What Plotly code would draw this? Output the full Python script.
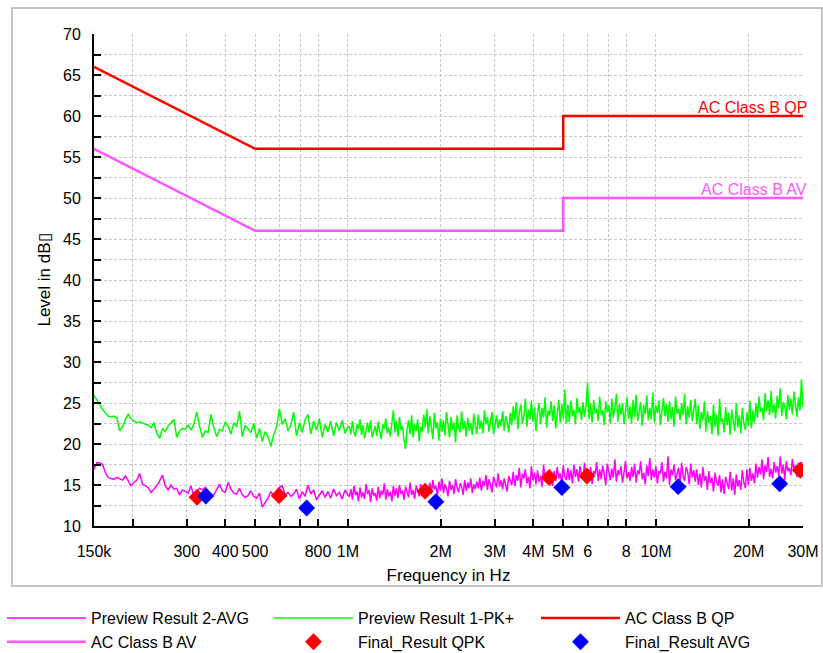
import math
import numpy as np
import plotly.graph_objects as go

# ---------------- data ----------------
# Preview sweep, 150 kHz .. 1 MHz (level in dBuV)
PK_LOW = [25.9, 25.4, 24.8, 24.2, 23.8, 23.4, 23.3, 23.4, 23.2, 21.6,
          22.1, 23.0, 23.6, 23.1, 22.8, 22.6, 22.7, 22.5, 22.4, 22.3,
          22.0, 22.6, 21.3, 20.7, 21.9, 21.5, 22.2, 22.6, 23.0, 20.8,
          21.6, 21.9, 21.8, 22.3, 21.7, 22.4, 23.9, 22.2, 20.8, 21.6,
          21.4, 23.6, 22.0, 20.9, 21.8, 21.6, 22.7, 22.2, 21.2, 22.6,
          22.1, 24.0, 20.9, 22.3, 21.8, 21.4, 22.5, 20.7, 21.9, 20.3,
          21.5, 20.9, 19.7, 21.2, 22.0, 24.3, 22.4, 23.1, 21.6, 22.3,
          23.9, 21.0, 22.6, 21.4, 23.0, 23.6, 21.2, 22.8, 21.7, 23.1,
          20.8, 22.4, 21.5, 22.8, 21.0, 22.6, 21.6, 22.9, 21.3, 22.1]
AVG_LOW = [16.9, 17.7, 17.7, 17.5, 16.5, 15.9, 15.8, 15.7, 15.9, 15.7,
           15.6, 16.1, 15.5, 14.9, 15.3, 15.6, 16.4, 15.1, 14.9, 14.7,
           14.1, 14.5, 14.9, 15.5, 16.2, 14.9, 14.4, 15.0, 14.5, 14.6,
           13.8, 14.4, 14.2, 14.0, 14.9, 13.6, 14.2, 14.6, 14.4, 14.7,
           14.2, 13.5, 13.8, 14.5, 15.1, 14.3, 14.1, 15.3, 14.5, 14.0,
           13.9, 14.6, 13.8, 13.5, 13.7, 14.3, 13.6, 13.4, 14.0, 12.3,
           12.9, 13.4, 14.2, 13.7, 14.3, 14.7, 14.9, 13.8, 14.1, 13.6,
           13.9, 14.5, 13.3, 14.2, 13.6, 15.0, 13.9, 14.4, 13.2, 13.8,
           14.3, 13.5, 14.2, 13.4, 14.5, 13.7, 14.1, 13.3, 14.4, 13.8]

# Preview sweep, 1 MHz .. 30 MHz
PK_HIGH = [22.1, 21.2, 22.8, 21.5, 20.9, 22.4, 21.8, 23.0, 21.1, 22.3,
           20.7, 21.9, 22.6, 21.4, 22.9, 20.8, 21.7, 22.2, 21.0, 22.7,
           21.6, 20.6, 22.4, 21.9, 23.1, 21.3, 22.0, 20.9, 22.5, 24.1,
           21.4, 22.8, 20.9, 23.3, 21.7, 22.2, 20.5, 19.4, 21.8, 22.9,
           21.2, 23.5, 20.8, 22.4, 21.6, 23.0, 20.3, 22.1, 21.5, 23.6,
           22.0, 24.2,
           21.3, 23.4, 22.1, 20.6, 23.8, 21.9, 22.7, 20.4, 23.1, 21.5,
           22.9, 21.0, 23.9, 22.2, 20.8, 23.3, 21.7, 22.6, 20.2, 23.5,
           22.0, 21.4, 24.0, 21.8, 22.8, 20.9, 23.2, 21.6, 22.5, 21.1,
           23.7, 22.3, 21.2,
           23.6, 21.8, 22.9, 21.3, 24.1, 22.4, 23.3, 21.5, 22.8, 23.9,
           21.2, 22.6, 23.5, 21.9, 23.0, 22.2, 24.0, 21.6, 23.4, 22.7,
           21.4, 23.8,
           22.3, 24.6, 22.9, 25.1, 21.8, 23.9, 24.8, 22.5, 23.4, 25.5,
           22.1, 24.2, 23.0, 25.3, 22.7, 24.5, 21.6, 23.8, 25.0, 22.4,
           24.4, 23.2, 25.7, 22.0, 24.1, 23.5, 25.2, 22.8, 24.7, 21.9,
           23.6, 25.4, 22.6, 24.9, 23.1, 26.6, 22.5,
           24.8, 22.7, 25.3, 23.4, 24.2, 22.4, 25.6, 23.8, 24.5, 22.9,
           25.1, 23.3, 24.6, 27.5, 23.0, 24.9, 22.6, 25.4, 23.7, 24.3,
           22.8, 25.8, 23.5, 24.1, 22.3, 25.2, 23.9, 24.7, 22.5, 25.5,
           23.2, 24.4, 26.1, 22.7, 24.9, 23.6, 25.0, 22.4, 24.3, 25.7,
           23.1,
           24.6, 22.5, 25.4, 23.3, 26.0, 22.8, 24.2, 25.1, 22.2, 24.8,
           23.6, 25.9, 22.9, 24.4, 23.0, 26.3, 22.6, 24.7, 23.8, 25.3,
           22.3, 24.1, 25.6, 23.4, 24.9, 22.7, 25.2, 23.1, 24.5, 22.1,
           25.8, 23.7, 24.3, 22.9, 25.0, 23.5, 26.1, 22.4, 24.6, 23.2,
           25.4, 22.8, 24.0, 25.5,
           22.4, 24.7, 21.8, 23.9, 22.9, 25.2, 21.5, 24.0, 22.6, 23.4,
           21.2, 24.8, 22.1, 23.6, 21.0, 25.5, 22.7, 23.1, 21.4, 24.5,
           22.3, 23.8, 21.1, 24.2, 22.8, 21.6, 25.0, 22.0, 23.5, 21.3,
           24.4, 22.5, 21.7, 23.9, 22.2, 25.3, 21.9, 24.1, 22.6,
           24.9, 23.2, 25.8, 23.9, 24.4, 22.9, 26.2, 24.0, 25.3, 23.5,
           26.5, 23.8, 24.8, 23.1, 25.9, 24.3, 26.8, 23.4, 25.1, 24.6,
           23.0, 26.0, 24.2, 25.5, 23.6, 26.4, 24.7, 23.3, 25.7, 24.1,
           27.9, 24.5]
AVG_HIGH = [13.6, 14.5, 13.2, 14.9, 13.8, 14.2, 13.0, 14.7, 13.5, 14.1,
            13.3, 15.1, 13.9, 14.4, 12.9, 14.6, 13.7, 14.0, 13.1, 14.8,
            13.4, 14.3, 13.8, 15.2, 13.2, 14.5, 13.6, 14.2, 13.0, 14.9,
            13.7, 14.6, 13.4, 15.0, 13.9, 14.3, 13.2, 14.8, 14.0, 13.5,
            15.3, 13.8, 14.4, 13.3, 14.9, 14.1, 13.6, 15.1, 13.9, 14.5,
            13.4, 14.7,
            14.2, 15.3, 13.9, 15.6, 14.5, 14.9, 13.7, 15.4, 14.3, 15.8,
            14.0, 15.1, 14.6, 13.6, 15.5, 14.4, 15.0, 13.9, 15.7, 14.7,
            14.1, 15.2, 14.8, 13.8, 15.6, 14.3, 15.3, 14.6, 15.8, 14.0,
            15.1, 14.5, 15.4,
            14.6, 15.9, 14.3, 15.5, 14.9, 16.2, 14.4, 15.7, 15.0, 14.1,
            16.0, 15.3, 14.7, 16.4, 14.8, 15.6, 14.5, 15.8, 15.1, 14.2,
            16.1, 15.4,
            15.0, 16.6, 14.9, 16.2, 15.5, 17.1, 14.7, 16.4, 15.8, 16.9,
            15.2, 16.0, 14.6, 17.3, 15.6, 16.5, 15.1, 16.8, 15.4, 16.1,
            14.8, 17.5, 15.7, 16.3, 15.3, 16.9, 15.9, 14.9, 16.7, 15.5,
            17.2, 15.8, 16.4, 15.2, 17.4, 16.0, 15.6,
            17.1, 15.6, 16.8, 15.2, 17.5, 16.0, 16.9, 15.4, 17.3, 16.2,
            15.8, 17.7, 15.3, 16.6, 15.9, 17.2, 15.1, 16.7, 16.3, 17.8,
            15.5, 16.9, 15.7, 17.4, 16.1, 15.0, 17.6, 16.4, 15.6, 17.0,
            15.9, 18.1, 15.4, 16.8, 16.2, 17.3, 15.3, 16.5, 17.9, 15.8,
            16.6,
            15.5, 17.2, 16.0, 17.6, 15.3, 16.8, 16.3, 17.9, 15.7, 16.5,
            15.1, 17.4, 16.1, 18.3, 15.6, 16.9, 15.9, 17.3, 15.2, 16.7,
            16.4, 17.8, 15.4, 16.6, 15.8, 18.5, 15.0, 16.9, 16.2, 17.5,
            15.6, 16.3, 17.1, 15.3, 17.7, 16.0, 15.5, 17.2, 16.6, 15.1,
            17.6, 15.9, 16.8, 15.4,
            16.9, 15.0, 16.4, 14.7, 17.2, 15.5, 16.1, 14.4, 16.7, 15.2,
            15.9, 14.2, 16.5, 15.4, 14.9, 16.2, 14.1, 15.7, 13.9, 16.0,
            15.1, 14.5, 16.6, 14.3, 15.8, 13.8, 16.3, 14.8, 15.6, 14.4,
            16.8, 15.3, 14.6, 16.9, 15.0, 17.1, 15.5, 16.4, 15.2,
            17.6, 15.9, 17.2, 16.3, 18.1, 15.7, 17.4, 16.6, 18.4, 16.0,
            17.0, 15.8, 17.8, 16.5, 17.3, 16.1, 18.5, 16.4, 17.5, 15.6,
            17.9, 16.7, 17.1, 16.2, 18.2, 16.8, 17.4, 16.0, 17.7, 16.5,
            17.8, 16.9]

# Limit lines (EN 55032 class B, conducted)
LIMIT_FREQ = [150e3, 500e3, 5e6, 5e6, 30e6]
QP_LIMIT = [66, 56, 56, 60, 60]
AV_LIMIT = [56, 46, 46, 50, 50]

# Final measurement results
QPK_FREQ = [324e3, 598e3, 1.78e6, 4.5e6, 5.97e6, 29.4e6]
QPK_LEVEL = [13.5, 13.7, 14.25, 15.9, 16.1, 16.8]
AVG_FREQ = [346e3, 735e3, 1.93e6, 4.95e6, 11.8e6, 25.2e6]
AVG_LEVEL = [13.65, 12.2, 12.95, 14.7, 14.8, 15.15]

X_TICKVALS = [150e3, 200e3, 300e3, 400e3, 500e3, 600e3, 700e3, 800e3, 1e6,
              2e6, 3e6, 4e6, 5e6, 6e6, 7e6, 8e6, 10e6, 20e6, 30e6]
X_TICKTEXT = ["150k", "", "300", "400", "500", "", "", "800", "1M",
              "2M", "3M", "4M", "5M", "6", "", "8", "10M", "20M", "30M"]

# sweep frequency grid of the receiver preview scan
f_low = np.geomspace(150e3, 1e6, len(PK_LOW))
f_high = np.geomspace(1e6, 30e6, len(PK_HIGH) + 1)[1:]
sweep_f = np.concatenate([f_low, f_high])
pk = PK_LOW + PK_HIGH
avg = AVG_LOW + AVG_HIGH

FONT = "Arial, Liberation Sans, sans-serif"

fig = go.Figure()
fig.add_trace(go.Scatter(x=sweep_f, y=avg, mode="lines", name="Preview Result 2-AVG",
                         line=dict(color="#ff00ff", width=1.5)))
fig.add_trace(go.Scatter(x=sweep_f, y=pk, mode="lines", name="Preview Result 1-PK+",
                         line=dict(color="#00ff00", width=1.5)))
fig.add_trace(go.Scatter(x=LIMIT_FREQ, y=QP_LIMIT, mode="lines", name="AC Class B QP",
                         line=dict(color="#ff0000", width=2.5)))
fig.add_trace(go.Scatter(x=LIMIT_FREQ, y=AV_LIMIT, mode="lines", name="AC Class B AV",
                         line=dict(color="#ff55ff", width=2.5)))
fig.add_trace(go.Scatter(x=QPK_FREQ, y=QPK_LEVEL, mode="markers", name="Final_Result QPK",
                         marker=dict(symbol="diamond", size=13, color="#ff0000")))
fig.add_trace(go.Scatter(x=AVG_FREQ, y=AVG_LEVEL, mode="markers", name="Final_Result AVG",
                         marker=dict(symbol="diamond", size=13, color="#0000ff")))

fig.add_annotation(x=math.log10(LIMIT_FREQ[-1]), y=QP_LIMIT[-1], text="AC Class B QP",
                   xanchor="right", yanchor="bottom", showarrow=False, xshift=6, yshift=-2,
                   font=dict(family=FONT, size=16, color="#ff0000"))
fig.add_annotation(x=math.log10(LIMIT_FREQ[-1]), y=AV_LIMIT[-1], text="AC Class B AV",
                   xanchor="right", yanchor="bottom", showarrow=False, xshift=6, yshift=-2,
                   font=dict(family=FONT, size=16, color="#ff55ff"))

# outer frame
W, H = 823, 653
L, R, T, B = 94, 20, 34, 127
pw, ph = W - L - R, H - T - B
def px(x):
    return (x - L) / pw
def py(y):
    return (H - B - y) / ph
fig.add_shape(type="rect", xref="paper", yref="paper", x0=px(12), x1=px(822), y0=py(586), y1=py(8),
              line=dict(color="#c4c4c4", width=2), layer="below")

GRID = "#c8c8c8"
fig.update_xaxes(type="log", range=[math.log10(150e3), math.log10(30e6)], automargin=True,
                 tickmode="array", tickvals=X_TICKVALS, ticktext=X_TICKTEXT,
                 showgrid=True, gridcolor=GRID, griddash="3px,2px", gridwidth=1,
                 showline=True, linecolor="black", linewidth=2,
                 ticks="inside", ticklen=7, tickwidth=1.5, tickcolor="black",
                 ticklabelstandoff=10,
                 tickfont=dict(family=FONT, size=16, color="black"),
                 title=dict(text="Frequency in Hz", font=dict(family=FONT, size=17, color="black"), standoff=10),
                 zeroline=False)
fig.update_yaxes(range=[10, 70], tickmode="linear", tick0=10, dtick=5, automargin=True,
                 showgrid=True, gridcolor=GRID, griddash="3px,2px", gridwidth=1,
                 minor=dict(dtick=2.5, tick0=10, showgrid=True, gridcolor=GRID, griddash="3px,2px",
                            ticks="inside", ticklen=7, tickwidth=1.5, tickcolor="black"),
                 showline=True, linecolor="black", linewidth=2,
                 ticks="inside", ticklen=7, tickwidth=1.5, tickcolor="black",
                 ticklabelstandoff=8,
                 tickfont=dict(family=FONT, size=16, color="black"),
                 title=dict(text="Level in dB\u25af", font=dict(family=FONT, size=17, color="black"), standoff=8),
                 zeroline=False)

fig.update_layout(
    width=W, height=H,
    margin=dict(l=L, r=R, t=T, b=B, pad=0, autoexpand=False),
    paper_bgcolor="white", plot_bgcolor="white",
    font=dict(family=FONT, size=16, color="black"),
    showlegend=True,
    legend=dict(orientation="h", xref="paper", yref="paper",
                x=px(2), y=py(601), xanchor="left", yanchor="top",
                entrywidth=173, entrywidthmode="pixels", itemwidth=79,
                font=dict(family=FONT, size=16, color="black"),
                tracegroupgap=0, bgcolor="rgba(0,0,0,0)"),
)

fig.write_html("out.html")
